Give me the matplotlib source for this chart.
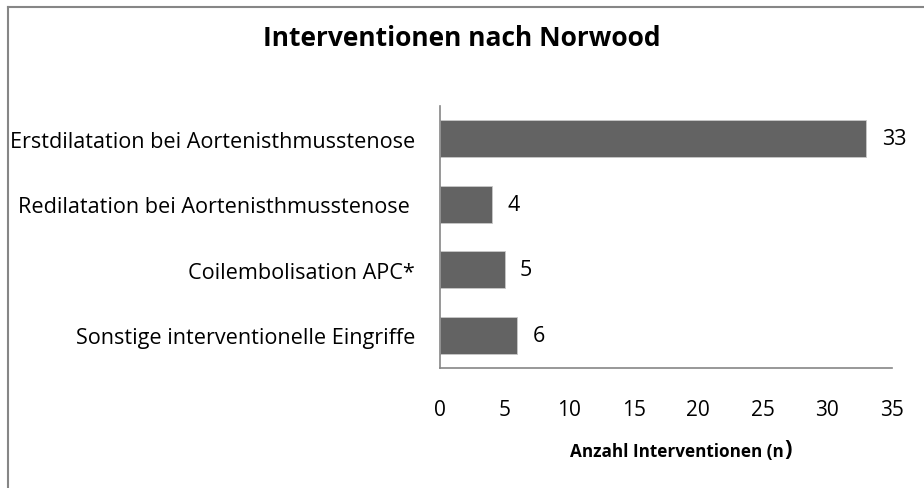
import matplotlib.pyplot as plt
from matplotlib.lines import Line2D

categories = ['Erstdilatation bei Aortenisthmusstenose',
              'Redilatation bei Aortenisthmusstenose ',
              'Coilembolisation APC*',
              'Sonstige interventionelle Eingriffe']
values = [33, 4, 5, 6]
xticks = [0, 5, 10, 15, 20, 25, 30, 35]

plt.rcParams['font.family'] = ['Open Sans', 'DejaVu Sans']

fig = plt.figure(figsize=(9.24, 4.89), dpi=100)
ax = fig.add_axes([440 / 924, 1 - 369 / 489, (892 - 440) / 924, (369 - 107) / 489])

pos = list(range(len(categories)))
bars = ax.barh(pos, values, height=0.57, color='#636363', edgecolor='#c8c8c8', linewidth=0.6)
ax.set_ylim(len(categories) - 0.5, -0.5)
ax.set_xlim(0, 35)
ax.set_yticks(pos)
ax.set_yticklabels(categories, fontsize=15.6)
ax.set_xticks(xticks)
ax.set_xticklabels([str(t) for t in xticks], fontsize=15)
ax.tick_params(axis='y', length=0, pad=18)
ax.tick_params(axis='x', length=0, pad=22)

for s in ['top', 'right']:
    ax.spines[s].set_visible(False)
for s in ['left', 'bottom']:
    ax.spines[s].set_color('#868686')
    ax.spines[s].set_linewidth(1.2)

for b, v in zip(bars, values):
    ax.text(b.get_width() + 1.2, b.get_y() + b.get_height() / 2, str(v),
            va='center', ha='left', fontsize=15.5)

fig.text(462 / 924, 1 - 38 / 489, 'Interventionen nach Norwood',
         ha='center', va='center', fontsize=19, fontweight='bold')
lbl = fig.text(570 / 924, 1 - 452 / 489, 'Anzahl Interventionen (n',
               ha='left', va='center', fontsize=12.3, fontweight='bold')
fig.canvas.draw()
bb = lbl.get_window_extent()
fig.text(bb.x1 / 924 + 1 / 924, 1 - 450 / 489, ')',
         ha='left', va='center', fontsize=16, fontweight='bold')

# Rahmen oben und links
fig.add_artist(Line2D([8 / 924, 1], [1 - 8 / 489, 1 - 8 / 489], color='#868686', lw=1.5))
fig.add_artist(Line2D([8 / 924, 8 / 924], [0, 1 - 8 / 489], color='#868686', lw=1.5))

fig.savefig('out.png', dpi=100)
